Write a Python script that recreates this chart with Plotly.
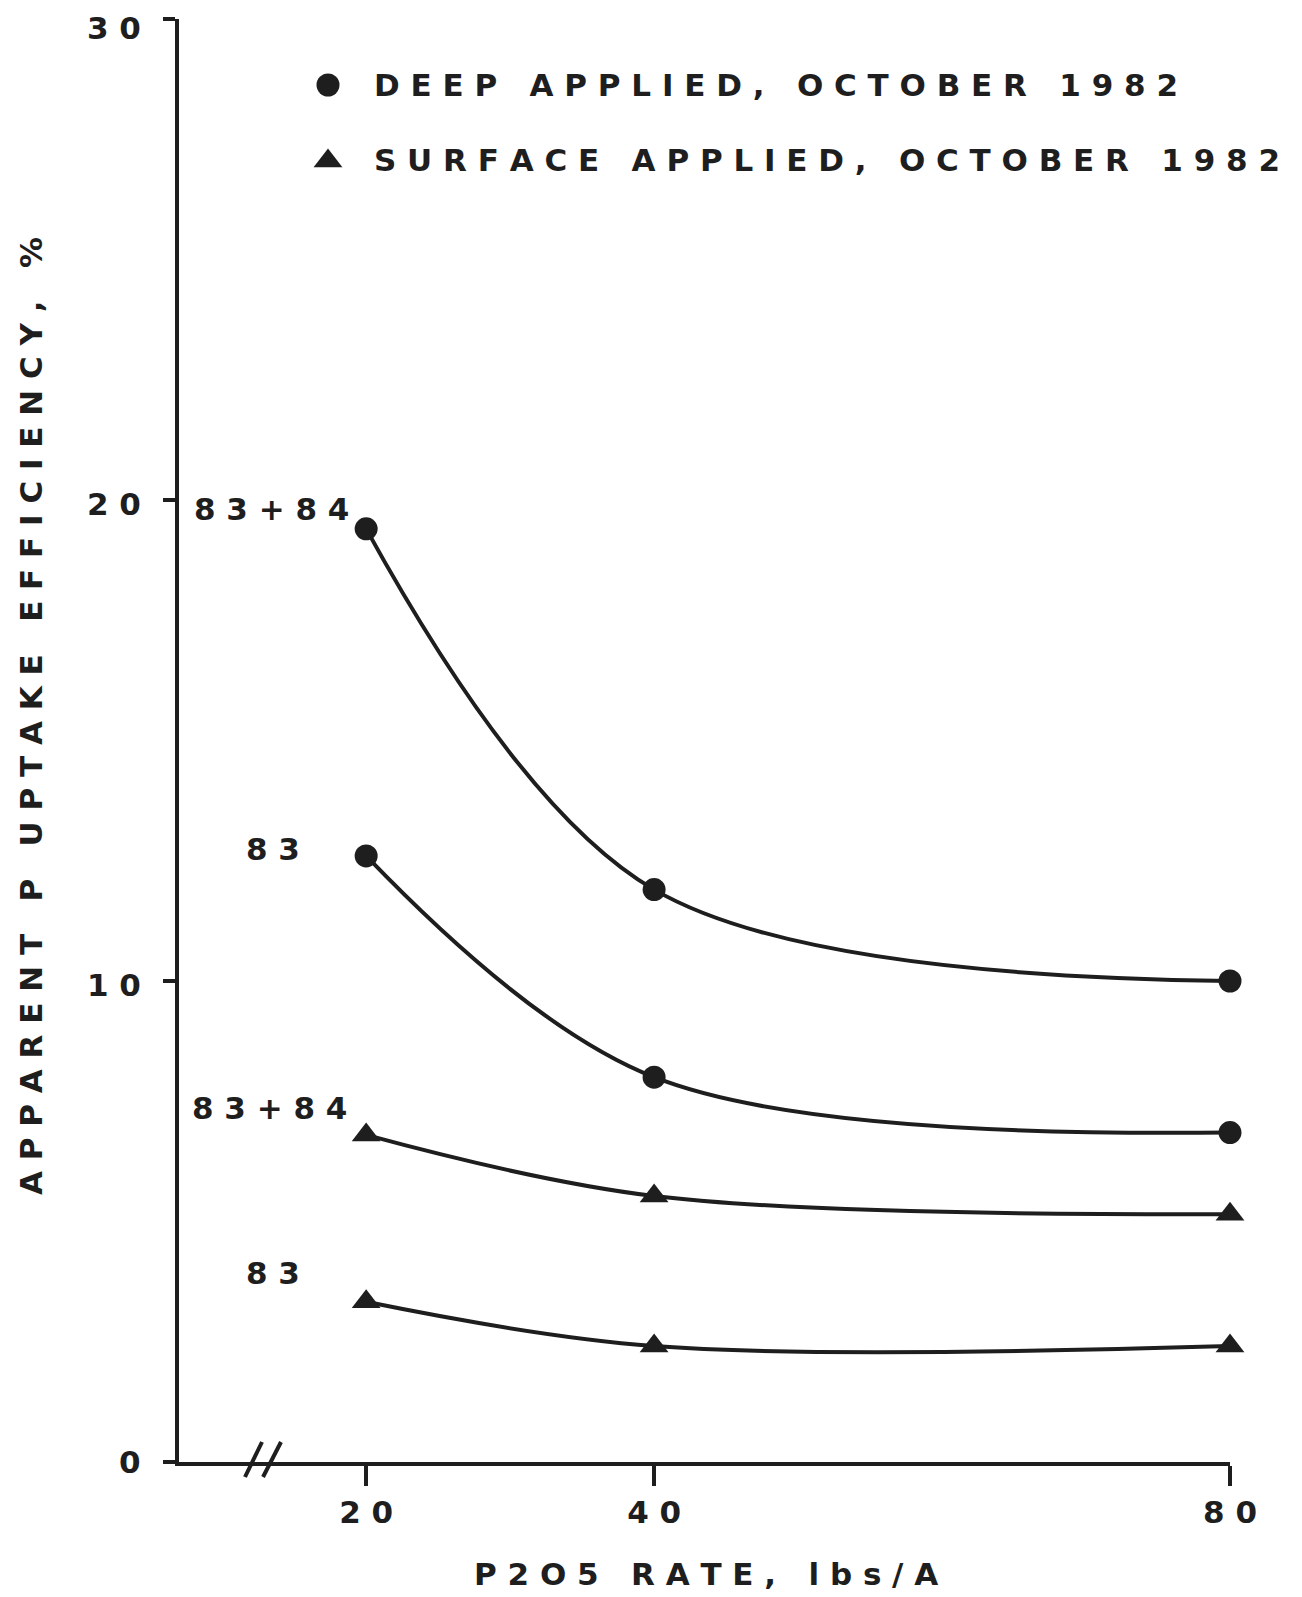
import plotly.graph_objects as go

# ---- data ----
rates = [20, 40, 80]
deep_83_84 = [19.4, 11.9, 10.0]
deep_83 = [12.6, 8.0, 6.85]
surface_83_84 = [6.8, 5.53, 5.15]
surface_83 = [3.33, 2.41, 2.41]

x_ticks = [20, 40, 80]
x_tick_labels = ["20", "40", "80"]
y_ticks = [0, 10, 20, 30]
y_tick_labels = ["0", "10", "20", "30"]

legend_deep = "DEEP APPLIED, OCTOBER 1982"
legend_surface = "SURFACE APPLIED, OCTOBER 1982"
label_both = "83+84"
label_83 = "83"
x_title = "P2O5 RATE, lbs/A"
y_title = "APPARENT P UPTAKE EFFICIENCY, %"

NB = "\u00a0"


def spaced(s, word_gap=3):
    words = s.split(" ")
    return (NB * word_gap).join(NB.join(list(w)) for w in words)


INK = "#1e1e1e"
FONT = "DejaVu Sans, Verdana, sans-serif"

# page offset (body margin) and plot-area geometry in page pixels
OFF = 8
L, R, T, B = 179, 1230, 19, 1462
W, H = R - L, B - T


def px(xp):
    return (xp - L) / W


def py(yp):
    return (B - yp) / H


fig = go.Figure()

series = [
    (deep_83_84, "circle"),
    (deep_83, "circle"),
    (surface_83_84, "triangle-up"),
    (surface_83, "triangle-up"),
]
for vals, sym in series:
    fig.add_trace(go.Scatter(
        x=rates, y=vals, mode="lines+markers",
        line=dict(color=INK, width=4, shape="spline", smoothing=1.0),
        marker=dict(symbol=sym, size=23 if sym == "circle" else 25, color=INK,
                    opacity=1, line=dict(width=0)),
        showlegend=False, cliponaxis=False, opacity=1,
    ))

# legend key markers on an overlay axis pair spanning the plot area
for sym, sz, yp in [("circle", 23, 85), ("triangle-up", 25, 161)]:
    fig.add_trace(go.Scatter(
        x=[px(328)], y=[py(yp)], mode="markers",
        marker=dict(symbol=sym, size=sz, color=INK, opacity=1, line=dict(width=0)),
        xaxis="x2", yaxis="y2", showlegend=False, cliponaxis=False, opacity=1,
    ))

tfont = dict(family=FONT, size=31, color=INK, weight="bold")

for txt, yp in [(legend_deep, 85), (legend_surface, 160)]:
    fig.add_annotation(
        x=px(372), y=py(yp), xref="paper", yref="paper",
        text=spaced(txt), showarrow=False, xanchor="left", yanchor="middle",
        font=tfont,
    )

# y tick labels (slightly below their ticks, as in the original)
for v, t in zip(y_ticks, y_tick_labels):
    shift = 0 if v == 0 else (-9 if v == max(y_ticks) else -4)
    fig.add_annotation(
        x=0, y=v, xref="paper", yref="y", text=spaced(t), showarrow=False,
        xanchor="right", yanchor="middle", xshift=-37, yshift=shift,
        font=tfont, borderpad=0,
    )

# curve labels, anchored at the first point of each curve
labels = [
    (deep_83_84, label_both, -15, 20),
    (deep_83, label_83, -64, 7),
    (surface_83_84, label_both, -17, 27),
    (surface_83, label_83, -64, 29),
]
for vals, txt, xs, ys in labels:
    fig.add_annotation(
        x=rates[0], y=vals[0], xref="x", yref="y",
        text=spaced(txt), showarrow=False,
        xanchor="right", yanchor="middle",
        xshift=xs, yshift=ys, font=tfont,
    )

# axis titles
fig.add_annotation(
    x=px(706), y=py(1574), xref="paper", yref="paper",
    text=spaced(x_title), showarrow=False, xanchor="center", yanchor="middle",
    font=tfont,
)
fig.add_annotation(
    x=px(31), y=py(716), xref="paper", yref="paper",
    text=spaced(y_title), showarrow=False, xanchor="center", yanchor="middle",
    textangle=-90, font=tfont,
)

# axis break marks
for x0, x1 in [(px(245), px(262)), (px(263), px(281))]:
    fig.add_shape(type="line", xref="x domain", yref="y domain",
                  x0=x0, x1=x1, y0=-15 / H, y1=20 / H,
                  line=dict(color=INK, width=4))

fig.update_xaxes(
    range=[7.0, 80], tickvals=x_ticks, ticktext=[spaced(t) for t in x_tick_labels],
    showline=True, linecolor=INK, linewidth=4, ticks="outside", ticklen=20,
    tickwidth=4, tickcolor=INK, showgrid=False, zeroline=False,
    tickfont=tfont, ticklabelstandoff=0, automargin=False,
    ticklabeloverflow="allow",
)
fig.update_yaxes(
    range=[0, 30], tickvals=y_ticks, showticklabels=False,
    showline=True, linecolor=INK, linewidth=4, ticks="outside", ticklen=12,
    tickwidth=4, tickcolor=INK, showgrid=False, zeroline=False,
    automargin=False,
)

fig.update_layout(
    width=1302, height=1597,
    margin=dict(l=L - OFF, r=1302 - R + OFF, t=T - OFF, b=1597 - B + OFF,
                autoexpand=False),
    paper_bgcolor="white", plot_bgcolor="white",
    showlegend=False,
    xaxis2=dict(overlaying="x", range=[0, 1], visible=False, automargin=False),
    yaxis2=dict(overlaying="y", range=[0, 1], visible=False, automargin=False),
)

fig.write_html("out.html")
